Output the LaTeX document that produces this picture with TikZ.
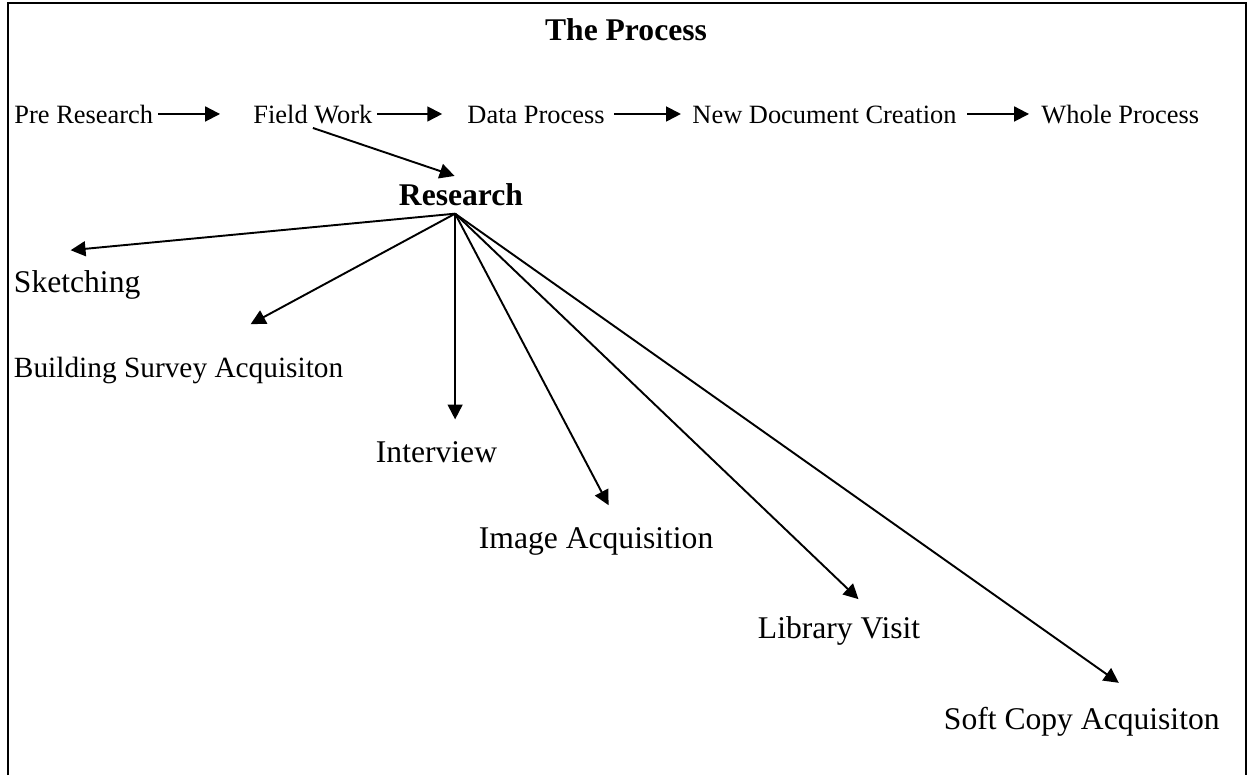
\documentclass[tikz,border=0pt]{standalone}
\usepackage{fontspec}
\setmainfont{Liberation Serif}
\usetikzlibrary{arrows.meta}
\tikzset{flow/.style={-{Triangle[length=6.6pt,width=6.6pt]},line width=0.85pt}}
\tikzset{rowitem/.style={anchor=base west,inner sep=2pt,font=\fontsize{11.7}{14}\selectfont,text height=8pt,text depth=0pt}}
\tikzset{leaf/.style={anchor=base west,inner sep=2pt,font=\fontsize{14}{17}\selectfont}}

\begin{document}
\begin{tikzpicture}[x=0.443pt,y=-0.443pt]
	\useasboundingbox (0,0) rectangle (1254,775);
	\draw[line width=1.2pt] (8,775) -- (8,3) -- (1246,3) -- (1246,775);
	\node[anchor=base,inner sep=2pt,font=\fontsize{14}{17}\selectfont\bfseries] (title) at (626,40) {The Process};
	% the process row
	\node[rowitem] (pre) at (9.5,123) {Pre Research};
	\node[rowitem] (field) at (248.5,123) {Field Work};
	\node[rowitem] (data) at (462.5,123) {Data Process};
	\node[rowitem] (newdoc) at (687.5,123) {New Document Creation};
	\node[rowitem] (whole) at (1036.5,123) {Whole Process};
	\draw[flow,shorten >=12.6pt] (pre) -- (field);
	\draw[flow,shorten >=9pt] (field) -- (data);
	\draw[flow,shorten <=2pt,shorten >=2.9pt] (data) -- (newdoc);
	\draw[flow,shorten <=2.5pt,shorten >=3.3pt] (newdoc) -- (whole);
	% research and its parts
	\node[leaf,font=\fontsize{14}{17}\selectfont\bfseries] (research) at (394,205) {Research};
	\draw[flow,shorten >=3pt] (field.south) -- (research.north);
	\coordinate (hub) at ([shift={(-2.6pt,-1.5pt)}]research.south);
	\node[leaf] (sketch) at (9,292) {Sketching};
	\node[leaf,font=\fontsize{13}{16}\selectfont] (survey) at (9,377) {Building Survey Acquisiton};
	\node[leaf] (interview) at (371,462) {Interview};
	\node[leaf] (image) at (474,548) {Image Acquisition};
	\node[leaf] (library) at (753,638) {Library Visit};
	\node[leaf] (softcopy) at (939,729) {Soft Copy Acquisiton};
	\draw[flow] (hub) -- ([shift={(-2.9pt,6.6pt)}]sketch.north);
	\draw[flow] (hub) -- ([shift={(31.9pt,12.2pt)}]survey.north);
	\draw[flow,shorten >=7.4pt] (hub) -- (hub |- interview.north);
	\draw[flow] (hub) -- ([shift={(5.5pt,7.5pt)}]image.north);
	\draw[flow] (hub) -- ([shift={(8.6pt,5.3pt)}]library.north);
	\draw[flow] (hub) -- ([shift={(16.4pt,8.4pt)}]softcopy.north);
\end{tikzpicture}
\end{document}
